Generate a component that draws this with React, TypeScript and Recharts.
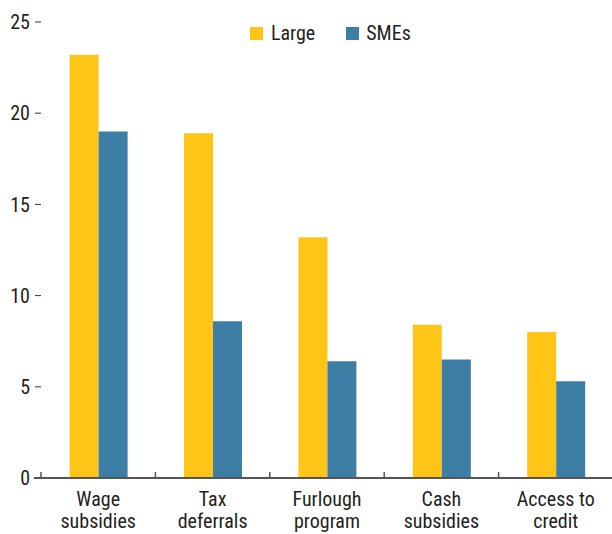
import React from "react";
import { BarChart, Bar, XAxis, YAxis } from "recharts";

const categories = ["Wage\nsubsidies", "Tax\ndeferrals", "Furlough\nprogram", "Cash\nsubsidies", "Access to\ncredit"];
const largeValues = [23.2, 18.9, 13.2, 8.4, 8.0];
const smeValues = [19.0, 8.6, 6.4, 6.5, 5.3];
const yTicks = [0, 5, 10, 15, 20, 25];
const seriesNames = ["Large", "SMEs"];

const data = categories.map((c, i) => ({ name: c, large: largeValues[i], sme: smeValues[i] }));

const W = 613;
const H = 534;
const YW = 41;
const FONT = "'Liberation Sans Narrow', 'Roboto Condensed', 'Liberation Sans', sans-serif";
const BAND = (W - YW) / categories.length;
const YELLOW = "#FFC516";
const BLUE = "#3D7EA6";
const AXIS = "#555";
const TEXT = "#231f20";

const XTick = (props: any) => {
  const { x, y, payload, index } = props;
  const lines = String(payload.value).split("\n");
  const bx = x - BAND / 2;
  return (
    <g>
      <line x1={bx} x2={bx} y1={y - 6} y2={y} stroke={AXIS} strokeWidth={1.5} />
      {index === 0 && <line x1={bx - 7} x2={bx} y1={y} y2={y} stroke={AXIS} strokeWidth={2} />}
      {lines.map((l: string, i: number) => (
        <text key={i} x={x} y={y} dy={28 + i * 22} textAnchor="middle" fill={TEXT} fontSize={20} fontFamily={FONT}>
          {l}
        </text>
      ))}
    </g>
  );
};

const LegendBox = () => (
  <div
    style={{
      position: "absolute",
      top: 21,
      left: 250,
      display: "flex",
      alignItems: "center",
      fontFamily: FONT,
      fontSize: 20,
      lineHeight: "24px",
      color: TEXT,
    }}
  >
    <span style={{ display: "inline-block", width: 13, height: 13, background: YELLOW, marginRight: 8 }} />
    <span style={{ marginRight: 31 }}>{seriesNames[0]}</span>
    <span style={{ display: "inline-block", width: 13, height: 13, background: BLUE, marginRight: 7 }} />
    <span>{seriesNames[1]}</span>
  </div>
);

export default function App() {
  return (
    <div style={{ position: "absolute", left: 0, top: 0, width: 612, height: 534, overflow: "hidden", background: "#fff" }}>
      <BarChart
        width={W}
        height={H}
        data={data}
        margin={{ top: 22, right: 0, bottom: 6, left: 0 }}
        barCategoryGap="25%"
        barGap={0}
      >
        <XAxis
          dataKey="name"
          height={50}
          interval={0}
          tickLine={false}
          tickSize={0}
          tickMargin={0}
          axisLine={{ stroke: AXIS, strokeWidth: 2 }}
          tick={<XTick />}
        />
        <YAxis
          width={YW}
          domain={[0, 25]}
          ticks={yTicks}
          axisLine={false}
          tickSize={6}
          tickMargin={5}
          tickLine={{ stroke: "#333", strokeWidth: 1 }}
          tick={{ fill: TEXT, fontSize: 20, fontFamily: FONT }}
        />
        <Bar dataKey="large" name={seriesNames[0]} fill={YELLOW} isAnimationActive={false} />
        <Bar dataKey="sme" name={seriesNames[1]} fill={BLUE} isAnimationActive={false} />
      </BarChart>
      <LegendBox />
    </div>
  );
}
